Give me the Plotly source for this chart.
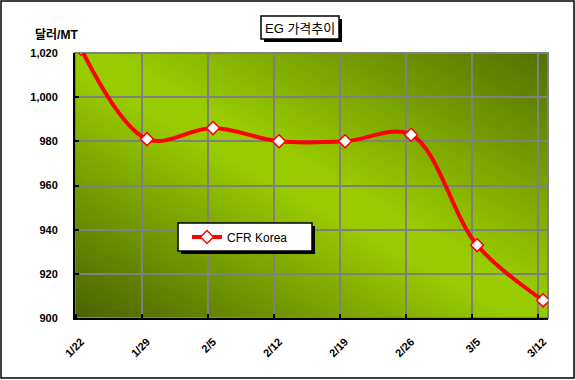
import base64
import plotly.graph_objects as go

# ---- data ----
categories = ["1/22", "1/29", "2/5", "2/12", "2/19", "2/26", "3/5", "3/12"]
cfr_korea = [1022, 981, 986, 980, 980, 983, 933, 908]
y_tick_values = [900, 920, 940, 960, 980, 1000, 1020]
y_tick_labels = ["900", "920", "940", "960", "980", "1,000", "1,020"]
series_name = "CFR Korea"
title_text = "EG 가격추이"
y_unit_text = "달러/MT"

# ---- layout geometry (pixels) ----
W, H = 575, 380
L, R, T, B = 75, 548, 53, 318
FONT = "Liberation Sans, Arial, Noto Sans CJK KR, sans-serif"
GRID_SHIFT = -0.076  # category gridlines sit slightly left of the points (as in Excel date axis)


def px(x):
    return (x - L) / (R - L)


def py(y):
    return (B - y) / (B - T)


# gradient background for plot area
svg = (
    '<svg xmlns="http://www.w3.org/2000/svg" width="473" height="265" preserveAspectRatio="none">'
    '<defs><linearGradient id="g" x1="0" y1="1" x2="1" y2="0">'
    '<stop offset="0" stop-color="#4a6200"/>'
    '<stop offset="0.47" stop-color="#99cc00"/>'
    '<stop offset="0.53" stop-color="#99cc00"/>'
    '<stop offset="1" stop-color="#527000"/>'
    '</linearGradient></defs>'
    '<rect width="100%" height="100%" fill="url(#g)"/></svg>'
)
bg_src = "data:image/svg+xml;base64," + base64.b64encode(svg.encode()).decode()

x_index = list(range(len(categories)))

fig = go.Figure()
fig.add_trace(
    go.Scatter(
        x=x_index,
        y=cfr_korea,
        name=series_name,
        mode="lines+markers",
        line=dict(color="#ff0000", width=4, shape="spline", smoothing=1),
        marker=dict(symbol="diamond", size=10, color="white",
                    line=dict(color="#ff0000", width=1.5)),
        cliponaxis=True,
    )
)

shapes = [
    dict(type="rect", xref="paper", yref="paper", x0=0, x1=1, y0=0, y1=1,
         line=dict(color="#808080", width=2), layer="below"),
    dict(type="rect", xref="paper", yref="paper", x0=px(1), x1=px(574), y0=py(1), y1=py(378),
         line=dict(color="black", width=1.5)),
    dict(type="rect", xref="paper", yref="paper", x0=px(264), x1=px(342), y0=py(19), y1=py(42),
         line=dict(width=0), fillcolor="black", layer="above"),
    dict(type="rect", xref="paper", yref="paper", x0=px(261), x1=px(339), y0=py(16), y1=py(39),
         line=dict(color="black", width=1.5), fillcolor="white", layer="above"),
    dict(type="rect", xref="paper", yref="paper", x0=px(181), x1=px(315), y0=py(226), y1=py(254),
         line=dict(width=0), fillcolor="black", layer="above"),
    dict(type="rect", xref="paper", yref="paper", x0=px(178), x1=px(312), y0=py(223), y1=py(251),
         line=dict(color="black", width=1.5), fillcolor="white", layer="above"),
]

annotations = [
    dict(text=title_text, xref="paper", yref="paper", x=px(300), y=py(28),
         xanchor="center", yanchor="middle", showarrow=False,
         font=dict(family=FONT, size=13, color="black")),
    dict(text="<b>" + y_unit_text + "</b>", xref="paper", yref="paper", x=px(33), y=py(35),
         xanchor="left", yanchor="middle", showarrow=False,
         font=dict(family=FONT, size=12, color="black")),
]

fig.update_layout(
    width=W, height=H,
    margin=dict(l=L, r=W - R, t=T, b=H - B, pad=0),
    paper_bgcolor="white",
    plot_bgcolor="rgba(0,0,0,0)",
    font=dict(family=FONT, color="black"),
    showlegend=True,
    legend=dict(x=px(187), y=py(237), xanchor="left", yanchor="middle",
                bgcolor="rgba(0,0,0,0)", borderwidth=0, itemwidth=30,
                font=dict(family=FONT, size=12, color="black")),
    images=[dict(source=bg_src, xref="paper", yref="paper", x=0, y=1, sizex=1, sizey=1,
                 xanchor="left", yanchor="top", sizing="stretch", layer="below")],
    shapes=shapes,
    annotations=annotations,
)

fig.update_xaxes(
    range=[GRID_SHIFT - 0.015, len(categories) - 1 + GRID_SHIFT + 0.15],
    tickvals=x_index, ticktext=categories,
    showgrid=False,
    ticks="",
    minor=dict(tick0=GRID_SHIFT, dtick=1, showgrid=True, gridcolor="#808080", gridwidth=2,
               ticks="inside", ticklen=4, tickwidth=2, tickcolor="black"),
    showline=True, linecolor="black", linewidth=2,
    tickangle=-45,
    tickfont=dict(family=FONT, size=11, color="black", weight="bold"),
    ticklabelstandoff=11,
    zeroline=False,
)
fig.update_yaxes(
    range=[900, 1020],
    tickvals=y_tick_values, ticktext=y_tick_labels,
    showgrid=True, gridcolor="#808080", gridwidth=2,
    showline=True, linecolor="black", linewidth=2,
    ticks="inside", ticklen=4, tickwidth=2, tickcolor="black",
    tickfont=dict(family=FONT, size=11, color="black", weight="bold"),
    ticklabelstandoff=13,
    zeroline=False,
)

fig.write_html("out.html")
